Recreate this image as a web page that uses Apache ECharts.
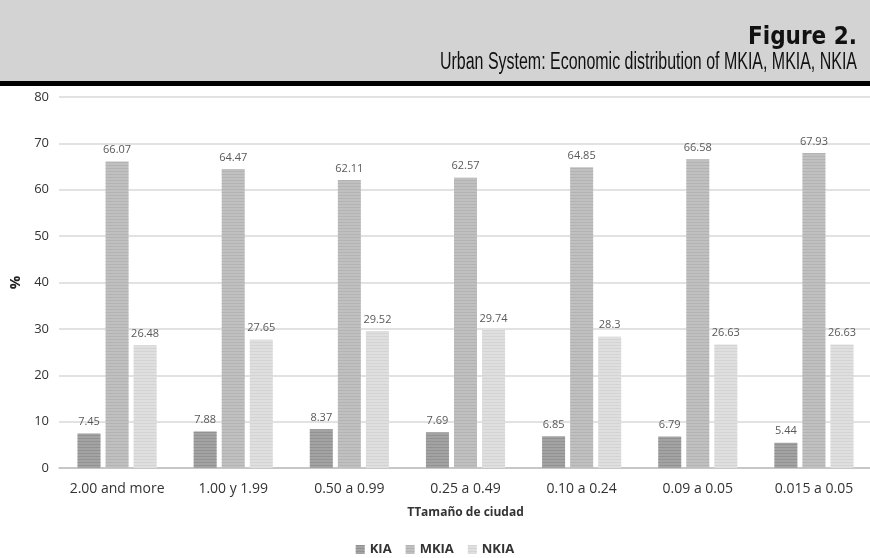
<!DOCTYPE html>
<html>
<head>
<meta charset="utf-8">
<script src="https://cdn.jsdelivr.net/npm/echarts@6/dist/echarts.min.js"></script>
<style>
  html, body { margin: 0; padding: 0; background: #fff; }
  #chart { width: 870px; height: 558px; }
</style>
</head>
<body>
<div id="chart"></div>
<script>
const categories = ['2.00 and more', '1.00 y 1.99', '0.50 a 0.99', '0.25 a 0.49', '0.10 a 0.24', '0.09 a 0.05', '0.015 a 0.05']
const kia = [7.45, 7.88, 8.37, 7.69, 6.85, 6.79, 5.44]
const mkia = [66.07, 64.47, 62.11, 62.57, 64.85, 66.58, 67.93]
const nkia = [26.48, 27.65, 29.52, 29.74, 28.3, 26.63, 26.63]
const yTicks = [0, 80, 10]

const chart = echarts.init(document.getElementById('chart'))

// squeeze header text to the width it has in the original
function fitScale(text, font, width) {
  const ctx = document.createElement('canvas').getContext('2d')
  ctx.font = font
  return width / ctx.measureText(text).width
}

const titleText = 'Figure 2.'
const titleFont = 'bold 25px "DejaVu Sans Condensed"'
const subText = 'Urban System: Economic distribution of MKIA, MKIA, NKIA'
const subFont = '23px "Liberation Sans"'

function stripes(color) {
  return {
    color: color,
    symbol: 'rect',
    dashArrayX: [1, 0],
    dashArrayY: [1, 2],
    rotation: 0
  }
}

function barSeries(name, data, color, decalColor) {
  return {
    name: name,
    type: 'bar',
    data: data,
    barWidth: 23,
    barGap: '22%',
    itemStyle: { color: color, decal: stripes(decalColor) },
    label: {
      show: true,
      position: 'top',
      distance: 6,
      color: '#595959',
      fontSize: 11,
      fontFamily: 'Open Sans'
    }
  }
}

const option = {
  aria: { enabled: true, decal: { show: true } },
  animation: false,
  graphic: [
    { type: 'rect', shape: { x: 0, y: 0, width: 870, height: 81 }, style: { fill: '#d3d3d3' } },
    { type: 'rect', shape: { x: 0, y: 81, width: 870, height: 5 }, style: { fill: '#000' } },
    {
      type: 'text', x: 857, y: 25,
      scaleX: fitScale(titleText, titleFont, 109),
      style: { text: titleText, font: titleFont, fill: '#111', align: 'right', verticalAlign: 'top' }
    },
    {
      type: 'text', x: 857, y: 51,
      scaleX: fitScale(subText, subFont, 417),
      style: { text: subText, font: subFont, fill: '#111', align: 'right', verticalAlign: 'top' }
    }
  ],
  legend: {
    top: 538,
    left: 'center',
    itemWidth: 9,
    itemHeight: 9,
    itemGap: 14,
    icon: 'rect',
    textStyle: { fontSize: 13, fontWeight: 'bold', color: '#333', fontFamily: 'Open Sans' },
    data: ['KIA', 'MKIA', 'NKIA']
  },
  grid: { left: 59, right: -2, top: 97, bottom: 90, outerBoundsMode: 'none' },
  xAxis: {
    type: 'category',
    data: categories,
    name: 'TTamaño de ciudad',
    nameLocation: 'middle',
    nameGap: 39,
    nameTextStyle: { fontSize: 12, fontWeight: 'bold', color: '#333', fontFamily: 'Open Sans' },
    axisLine: { lineStyle: { color: '#bfbfbf', width: 1.5 } },
    axisTick: { show: false },
    axisLabel: { interval: 0, fontSize: 14, color: '#333', margin: 14, fontFamily: 'Open Sans' }
  },
  yAxis: {
    type: 'value',
    min: yTicks[0],
    max: yTicks[1],
    interval: yTicks[2],
    name: '%',
    nameLocation: 'middle',
    nameGap: 27,
    nameRotate: 90,
    nameTextStyle: { fontSize: 15, fontWeight: 'bold', color: '#222', fontFamily: 'Open Sans' },
    axisLine: { show: false },
    axisTick: { show: false },
    axisLabel: { fontSize: 13, color: '#333', margin: 10, fontFamily: 'Open Sans' },
    splitLine: { lineStyle: { color: '#d9d9d9', width: 1.5 } }
  },
  series: [
    barSeries('KIA', kia, '#a3a3a3', 'rgba(135,135,135,0.6)'),
    barSeries('MKIA', mkia, '#c0c0c0', 'rgba(165,165,165,0.6)'),
    barSeries('NKIA', nkia, '#dfdfdf', 'rgba(205,205,205,0.6)')
  ]
}

chart.setOption(option)
</script>
</body>
</html>
